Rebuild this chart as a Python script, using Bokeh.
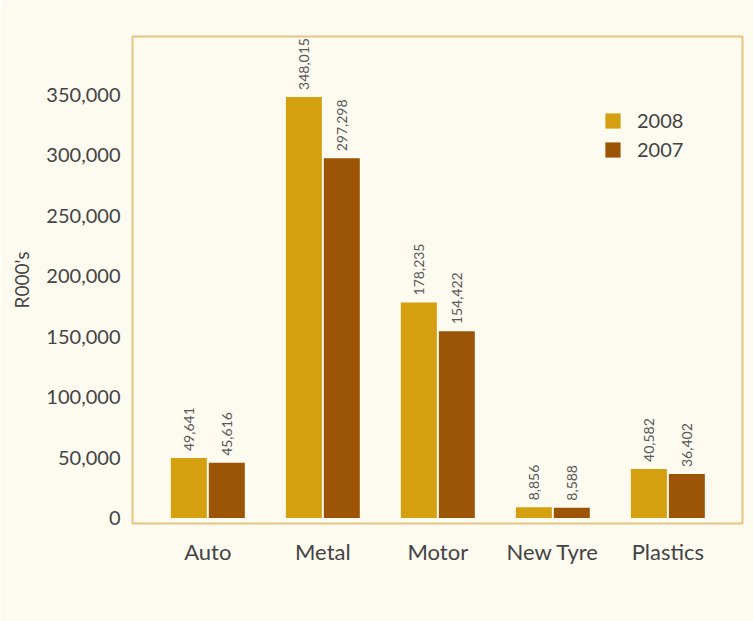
import numpy as np
from bokeh.plotting import figure
from bokeh.models import (ColumnDataSource, Range1d, FixedTicker, LabelSet, Legend,
                          LegendItem, NumeralTickFormatter)
from bokeh.core.properties import value
from bokeh.embed import file_html
from bokeh.resources import INLINE

# ---- data ----
categories = ["Auto", "Metal", "Motor", "New Tyre", "Plastics"]
series_names = ["2008", "2007"]
values_2008 = [49641, 348015, 178235, 8856, 40582]
values_2007 = [45616, 297298, 154422, 8588, 36402]
y_tick_values = [0, 50000, 100000, 150000, 200000, 250000, 300000, 350000]
y_axis_title = "R000's"

# ---- style ----
BG = "#fdfaf0"
GOLD = "#d4a00f"
BROWN = "#9c5407"
FRAME = "#e4c583"
TXT = "#444444"
FONT = "Lato"

idx = np.arange(len(categories))
off = 0.165
bw = 0.313

src08 = ColumnDataSource(dict(x=idx - off, top=values_2008,
                              lbl=[f"{v:,}" for v in values_2008]))
src07 = ColumnDataSource(dict(x=idx + off, top=values_2007,
                              lbl=[f"{v:,}" for v in values_2007]))

p = figure(width=753, height=621, output_backend="svg", toolbar_location=None,
           x_range=Range1d(-0.655, 4.649), y_range=Range1d(-4500, 398000),
           min_border_left=132, min_border_right=11, min_border_top=36,
           min_border_bottom=98)
p.background_fill_color = BG
p.border_fill_color = BG
p.outline_line_color = FRAME
p.outline_line_width = 2
p.grid.visible = False

r1 = p.vbar(x="x", top="top", bottom=0, width=bw, source=src08,
            fill_color=GOLD, line_color=None)
r2 = p.vbar(x="x", top="top", bottom=0, width=bw, source=src07,
            fill_color=BROWN, line_color=None)

for src in (src08, src07):
    p.add_layout(LabelSet(x="x", y="top", text="lbl", source=src, angle=np.pi / 2,
                          text_align="left", text_baseline="middle", y_offset=7,
                          text_font=value(FONT), text_font_size=value("14px"),
                          text_color="#585858"))

# axes
p.xaxis.ticker = FixedTicker(ticks=list(idx))
p.xaxis.major_label_overrides = {int(i): c for i, c in zip(idx, categories)}
p.yaxis.ticker = FixedTicker(ticks=y_tick_values)
p.yaxis.formatter = NumeralTickFormatter(format="0,0")
for ax in (p.xaxis[0], p.yaxis[0]):
    ax.axis_line_color = None
    ax.major_tick_line_color = None
    ax.minor_tick_line_color = None
    ax.major_label_text_font = FONT
    ax.major_label_text_color = TXT
p.xaxis.major_label_text_font_size = "22px"
p.xaxis.major_label_standoff = 8
p.yaxis.major_label_text_font_size = "20px"
p.yaxis.major_label_standoff = 6
p.yaxis.axis_label = y_axis_title
p.yaxis.axis_label_text_font = FONT
p.yaxis.axis_label_text_font_size = "19px"
p.yaxis.axis_label_text_font_style = "normal"
p.yaxis.axis_label_text_color = TXT
p.yaxis.axis_label_standoff = 10

legend = Legend(items=[LegendItem(label=series_names[0], renderers=[r1]),
                       LegendItem(label=series_names[1], renderers=[r2])],
                location=(471, 362), padding=0, margin=0, spacing=5,
                glyph_width=19, glyph_height=19, label_height=19,
                label_standoff=15, label_text_font=FONT,
                label_text_font_size="20px", label_text_color=TXT,
                border_line_color=None, background_fill_alpha=0)
p.add_layout(legend)

open("out.html", "w").write(file_html(p, INLINE))
